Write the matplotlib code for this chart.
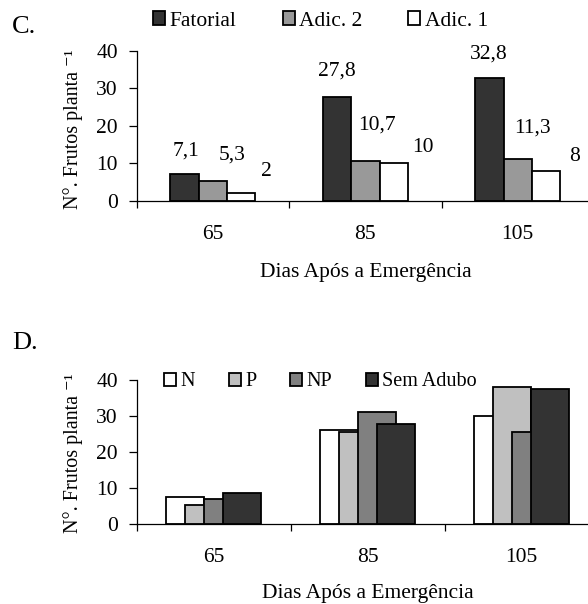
import numpy as np
import matplotlib
matplotlib.use('Agg')
import matplotlib.pyplot as plt
from matplotlib.patches import Patch

plt.rcParams['font.family'] = ['Liberation Serif', 'DejaVu Serif']

# data
dias = ['65', '85', '105']

# C. fatorial vs adicionais
series_c = ['Fatorial', 'Adic. 2', 'Adic. 1']
fatorial = [7.1, 27.8, 32.8]
adic2 = [5.3, 10.7, 11.3]
adic1 = [2, 10, 8]

# D. adubacao
series_d = ['N', 'P', 'NP', 'Sem Adubo']
n_vals = [7.4, 26.1, 30.0]
p_vals = [5.3, 25.6, 38.0]
np_vals = [6.9, 31.0, 25.6]
sa_vals = [8.7, 27.8, 37.4]

cols_c = ['#333333', '#999999', 'white']
cols_d = ['white', '#c0c0c0', '#808080', '#333333']

# label offsets (pixels) for the data labels of C, as placed in the original
lab_dx = [[1, 0, -1], [19, 12, 15], [25, 29, 28]]
lab_dy = [[23, 25, 24], [26, 36, 30], [22, 16, 14]]

W, H = 588, 604
fs = 15.5
fig = plt.figure(figsize=(W / 100, H / 100), dpi=100)


def px_axes(l, t, r, b):
    return fig.add_axes([l / W, 1 - b / H, (r - l) / W, (b - t) / H])


def style_axis(ax):
    for s in ['top', 'right']:
        ax.spines[s].set_visible(False)
    for s in ['left', 'bottom']:
        ax.spines[s].set_linewidth(0.9)
    ax.set_xlim(0, 3)
    ax.set_ylim(0, 40)
    ax.set_yticks([0, 10, 20, 30, 40])
    ax.tick_params(axis='y', direction='out', length=5.5, width=0.9, labelsize=fs, pad=8)
    ax.set_xticks([0, 1, 2, 3])
    ax.set_xticklabels([])
    ax.tick_params(axis='x', which='major', direction='out', length=5, width=0.9)
    ax.set_xticks(np.arange(3) + 0.5, minor=True)
    ax.set_xticklabels(dias, minor=True)
    ax.tick_params(axis='x', which='minor', length=0, labelsize=fs, pad=17)
    ax.set_ylabel('N°. Frutos planta ⁻¹', fontsize=14.5)
    ax.set_xlabel('Dias Após a Emergência', fontsize=fs)


# ---- C ----
ax = px_axes(136.7, 50.7, 594, 201)
x = np.arange(3) + 0.5
bw = 0.186
for k, (vals, c) in enumerate(zip([fatorial, adic2, adic1], cols_c)):
    xs = x + (k - 1) * bw
    ax.bar(xs, vals, bw, color=c, edgecolor='black', linewidth=1.3, zorder=2)
    for i in range(3):
        ax.annotate(f'{vals[i]:g}'.replace('.', ','), (xs[i], vals[i]),
                    xytext=(lab_dx[k][i], lab_dy[k][i]), textcoords='offset pixels',
                    ha='center', va='center', fontsize=fs)
style_axis(ax)
ax.yaxis.set_label_coords(-0.117, 0.48)
ax.xaxis.set_label_coords(0.5, -0.41)
handles = [Patch(facecolor=c, edgecolor='black', linewidth=1.3) for c in cols_c]
fig.legend(handles, series_c, loc='center left', bbox_to_anchor=(153 / W, 1 - 21 / H),
           ncol=3, frameon=False, fontsize=15.5, handlelength=0.56, handleheight=0.56,
           handletextpad=0.2, columnspacing=2.15, borderpad=0, borderaxespad=0)
fig.text(12 / W, 1 - 27 / H, 'C.', fontsize=19, va='center', ha='left')

# ---- D ----
ax2 = px_axes(136.7, 380, 598.7, 524)
wd = 0.247
sd = 0.123
for k, (vals, c) in enumerate(zip([n_vals, p_vals, np_vals, sa_vals], cols_d)):
    left = x - (3 * sd + wd) / 2 + k * sd
    ax2.bar(left, vals, wd, align='edge', color=c, edgecolor='black', linewidth=1.3, zorder=2)
style_axis(ax2)
ax2.yaxis.set_label_coords(-0.117, 0.493)
ax2.xaxis.set_label_coords(0.5, -0.42)
handles = [Patch(facecolor=c, edgecolor='black', linewidth=1.3) for c in cols_d]
fig.legend(handles, series_d, loc='center left', bbox_to_anchor=(164 / W, 1 - 382 / H),
           ncol=4, frameon=False, fontsize=14.5, handlelength=0.6, handleheight=0.6,
           handletextpad=0.2, columnspacing=1.7, borderpad=0, borderaxespad=0)
fig.text(12 / W, 1 - 343 / H, 'D.', fontsize=19, va='center', ha='left')

plt.savefig('out.png', dpi=100)
